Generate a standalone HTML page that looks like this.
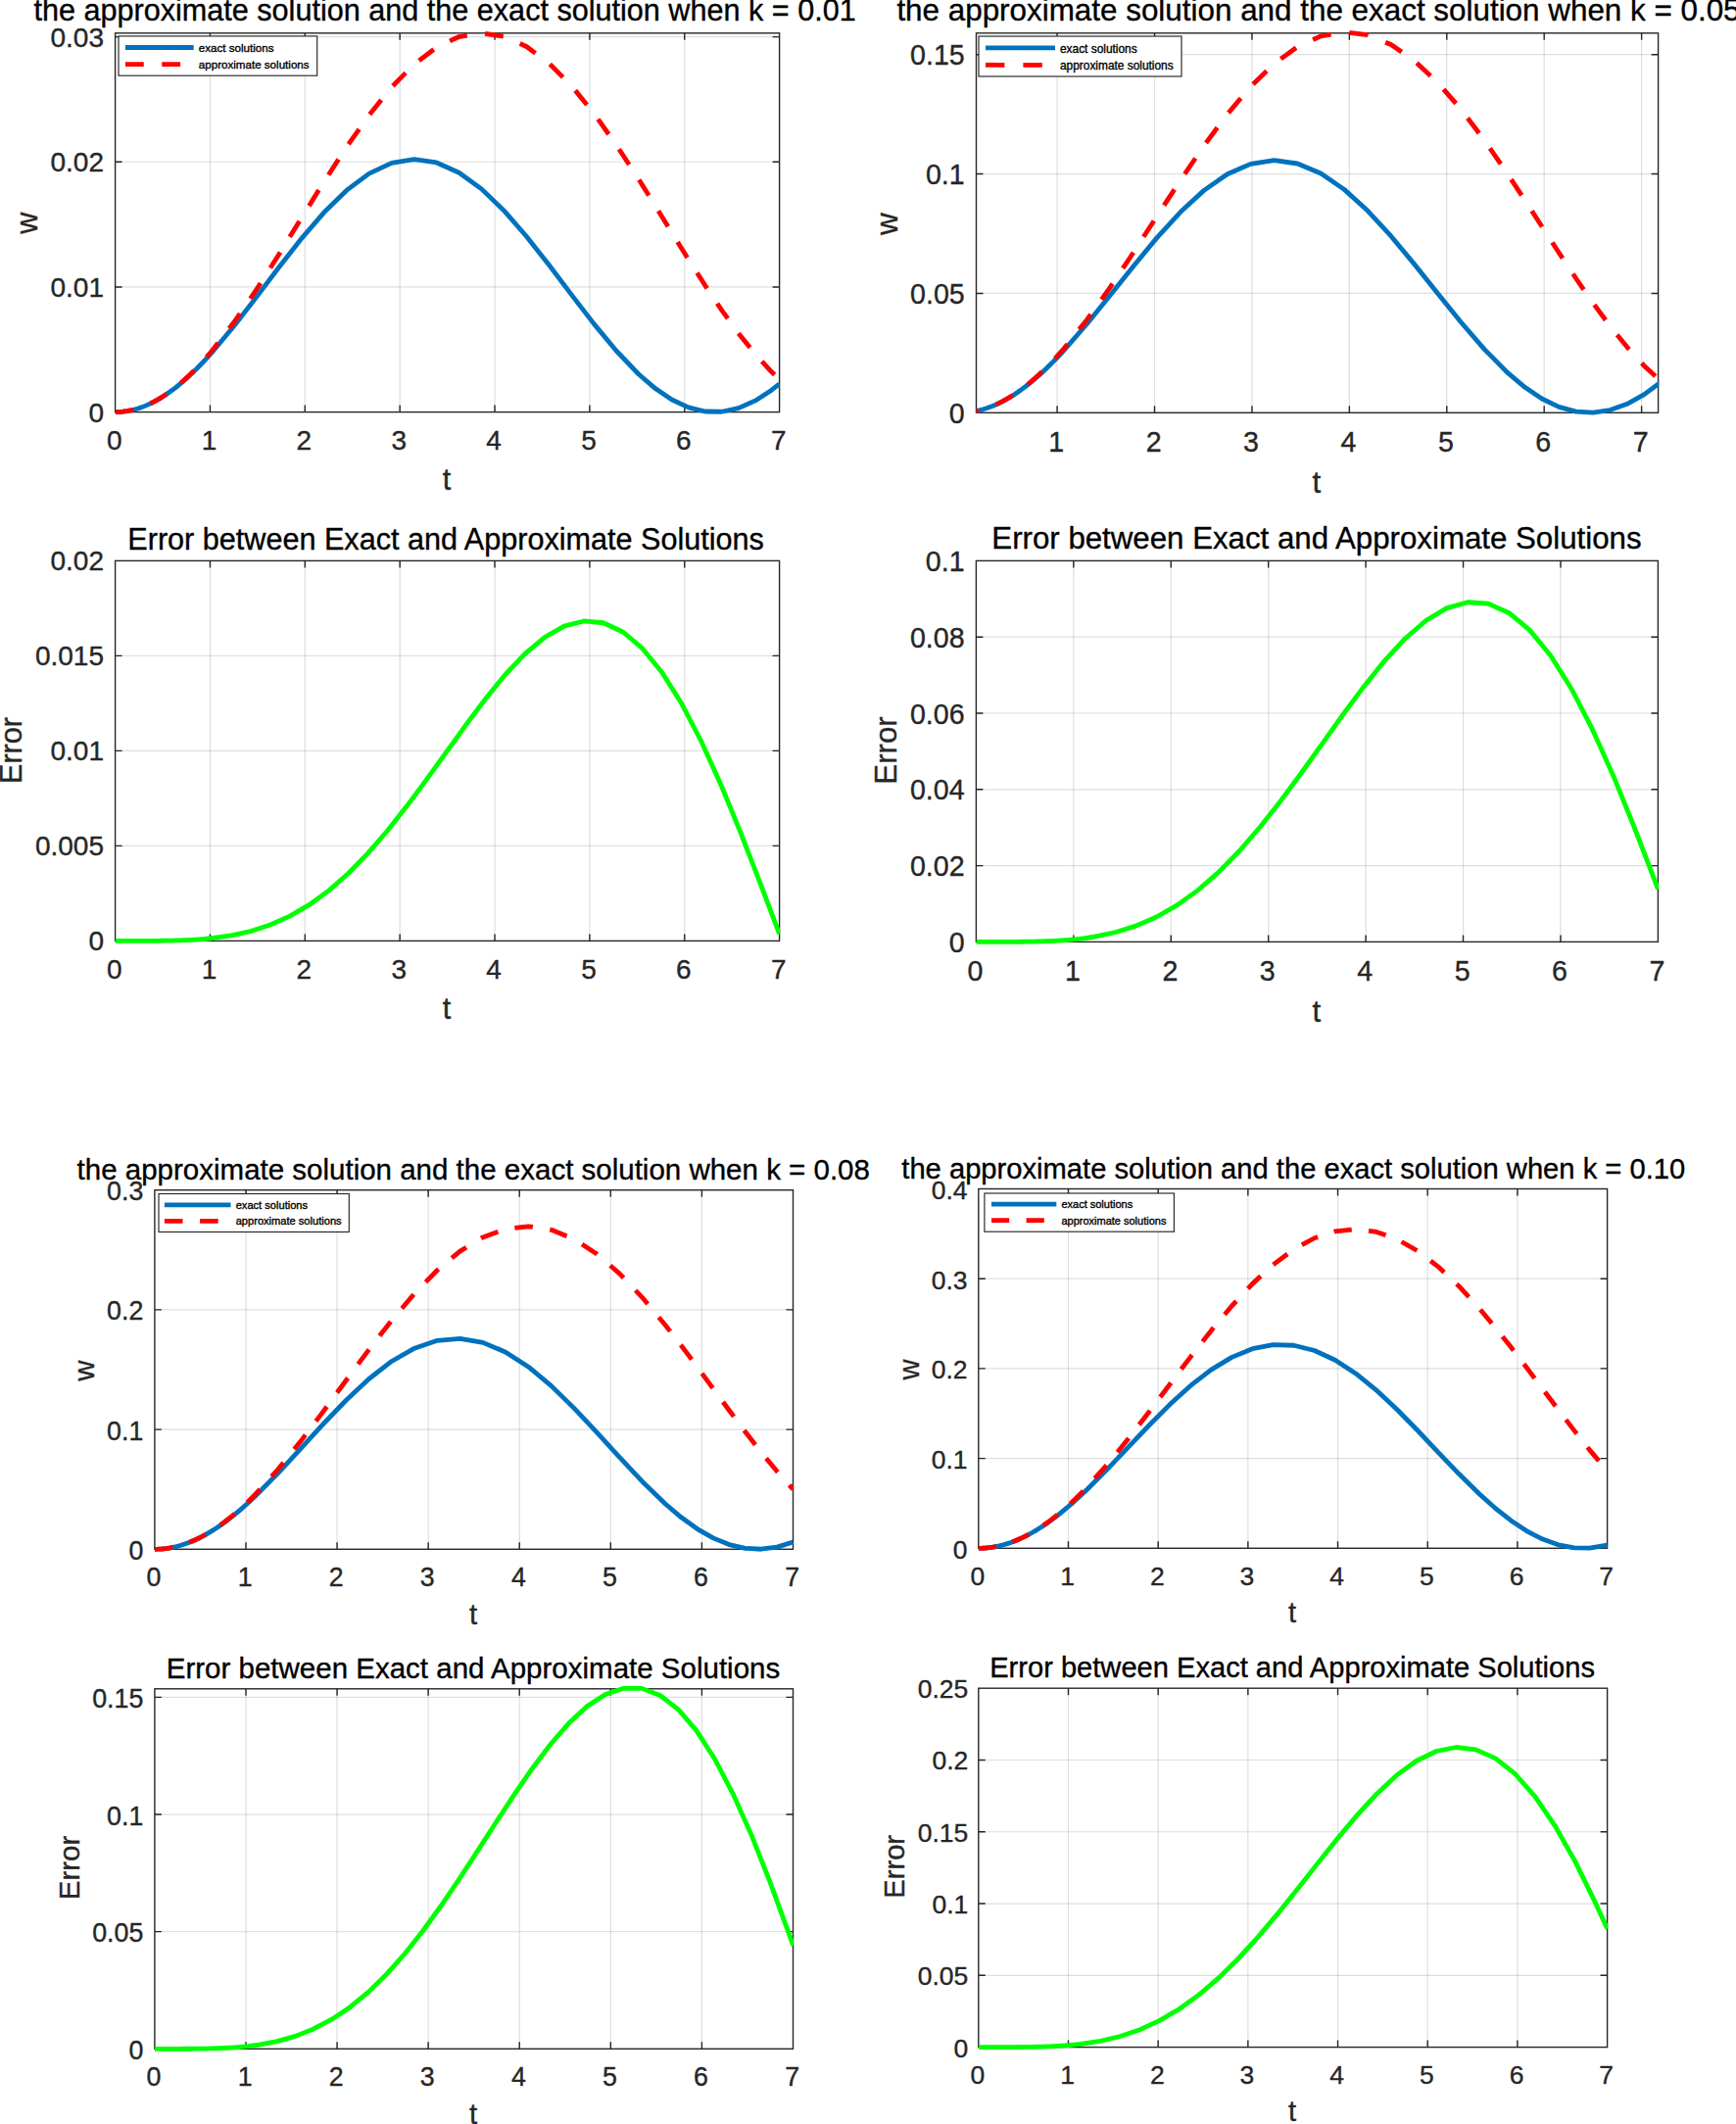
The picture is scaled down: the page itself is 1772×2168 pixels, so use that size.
<!DOCTYPE html><html><head><meta charset="utf-8"><title>Approximate and exact solutions</title><style>html,body{margin:0;padding:0;background:#fff}body{width:1772px;height:2168px;overflow:hidden}svg{display:block;font-family:"Liberation Sans", Arial, Helvetica, sans-serif}text{stroke-width:0.35px;paint-order:stroke fill;stroke-linejoin:round}</style></head><body>
<svg width="1772" height="2168" viewBox="0 0 1772 2168"><rect width="1772" height="2168" fill="#fff"/>
<g id="p1">
<path d="M214.46 33.80V420.60M311.31 33.80V420.60M408.17 33.80V420.60M505.03 33.80V420.60M601.89 33.80V420.60M698.74 33.80V420.60" stroke="rgba(38,38,38,0.15)" stroke-width="1.2" fill="none"/>
<path d="M117.60 292.93H795.60M117.60 165.26H795.60M117.60 37.59H795.60" stroke="rgba(38,38,38,0.15)" stroke-width="1.2" fill="none"/>
<rect x="117.60" y="33.80" width="678.00" height="386.80" fill="none" stroke="#262626" stroke-width="1.4"/>
<path d="M214.46 420.60v-7M214.46 33.80v7M311.31 420.60v-7M311.31 33.80v7M408.17 420.60v-7M408.17 33.80v7M505.03 420.60v-7M505.03 33.80v7M601.89 420.60v-7M601.89 33.80v7M698.74 420.60v-7M698.74 33.80v7M117.60 292.93h7M795.60 292.93h-7M117.60 165.26h7M795.60 165.26h-7M117.60 37.59h7M795.60 37.59h-7" stroke="#262626" stroke-width="1.4" fill="none"/>
<g font-size="28" fill="#262626" stroke="#262626">
<text x="116.70" y="459.40" text-anchor="middle">0</text>
<text x="213.56" y="459.40" text-anchor="middle">1</text>
<text x="310.41" y="459.40" text-anchor="middle">2</text>
<text x="407.27" y="459.40" text-anchor="middle">3</text>
<text x="504.13" y="459.40" text-anchor="middle">4</text>
<text x="600.99" y="459.40" text-anchor="middle">5</text>
<text x="697.84" y="459.40" text-anchor="middle">6</text>
<text x="794.70" y="459.40" text-anchor="middle">7</text>
<text x="106.00" y="430.80" text-anchor="end">0</text>
<text x="106.00" y="303.13" text-anchor="end">0.01</text>
<text x="106.00" y="175.46" text-anchor="end">0.02</text>
<text x="106.00" y="47.79" text-anchor="end">0.03</text>
</g>
<clipPath id="cp1"><rect x="117.60" y="30.80" width="678.70" height="392.80"/></clipPath>
<g clip-path="url(#cp1)" fill="none" stroke-linejoin="round">
<polyline points="117.60,420.60 121.47,420.50 125.35,420.19 129.22,419.68 133.10,418.97 136.97,418.06 140.85,416.94 144.72,415.63 148.59,414.12 152.47,412.42 156.34,410.52 160.22,408.44 164.09,406.17 167.97,403.72 171.84,401.09 175.71,398.29 179.59,395.32 183.46,392.19 187.34,388.90 191.21,385.45 195.09,381.86 198.96,378.12 202.83,374.24 206.71,370.24 210.58,366.11 216.37,359.73 239.29,332.29 262.22,302.61 285.14,272.32 308.07,243.10 331.00,216.56 353.92,194.16 376.85,177.14 399.77,166.44 422.70,162.65 445.63,165.98 468.55,176.24 491.48,192.87 514.40,214.95 537.33,241.27 560.26,270.36 583.18,300.63 606.11,330.40 629.03,358.03 651.96,382.00 668.91,396.57 685.86,407.97 702.81,415.85 719.76,419.98 736.71,420.23 753.66,416.58 770.61,409.16 787.56,398.19 795.60,391.83" stroke="#0072bd" stroke-width="4.8"/>
<polyline points="117.60,420.60 121.47,420.50 125.35,420.19 129.22,419.68 133.10,418.97 136.97,418.05 140.85,416.93 144.72,415.62 148.59,414.10 152.47,412.39 156.34,410.48 160.22,408.37 164.09,406.08 167.97,403.59 171.84,400.92 175.71,398.07 179.59,395.04 183.46,391.83 187.34,388.44 191.21,384.89 195.09,381.16 198.96,377.28 202.83,373.24 206.71,369.04 210.58,364.69 216.37,357.94 239.29,328.28 262.22,294.91 285.14,259.03 308.07,221.98 331.00,185.12 353.92,149.81 376.85,117.35 399.77,88.94 422.70,65.63 445.63,48.27 468.55,37.51 491.48,33.74 514.40,37.10 537.33,47.46 560.26,64.45 583.18,87.44 606.11,115.58 629.03,147.84 651.96,183.02 668.91,210.15 685.86,237.62 702.81,264.88 719.76,291.39 736.71,316.59 753.66,339.99 770.61,361.12 787.56,379.54 795.60,387.22" stroke="#ff0000" stroke-width="4.8" stroke-dasharray="18.85 18.5"/>
</g>
<text x="34.40" y="21.40" font-size="30.6" fill="#000" stroke="#000" text-anchor="start">the approximate solution and the exact solution when k = 0.01</text>
<text x="456.00" y="500.40" font-size="30.6" fill="#262626" stroke="#262626" text-anchor="middle">t</text>
<text transform="translate(38.10 227.80) rotate(-90)" font-size="30.6" fill="#262626" stroke="#262626" text-anchor="middle">w</text>
<rect x="121.00" y="36.90" width="202.70" height="40.30" fill="#fff" stroke="#262626" stroke-width="1.15"/>
<path d="M127.90 48.50H197.70" stroke="#0072bd" stroke-width="4.8"/>
<path d="M127.90 65.65H197.70" stroke="#ff0000" stroke-width="4.8" stroke-dasharray="18.85 18.5"/>
<text x="202.80" y="53.00" font-size="11.6" fill="#000" stroke="#000" stroke-width="0.2">exact solutions</text>
<text x="202.80" y="69.80" font-size="11.6" fill="#000" stroke="#000" stroke-width="0.2">approximate solutions</text>
</g>
<g id="p2">
<path d="M1079.10 33.80V421.30M1178.52 33.80V421.30M1277.94 33.80V421.30M1377.36 33.80V421.30M1476.78 33.80V421.30M1576.20 33.80V421.30M1675.62 33.80V421.30" stroke="rgba(38,38,38,0.15)" stroke-width="1.2" fill="none"/>
<path d="M996.50 299.43H1692.60M996.50 177.56H1692.60M996.50 55.69H1692.60" stroke="rgba(38,38,38,0.15)" stroke-width="1.2" fill="none"/>
<rect x="996.50" y="33.80" width="696.10" height="387.50" fill="none" stroke="#262626" stroke-width="1.4"/>
<path d="M1079.10 421.30v-7M1079.10 33.80v7M1178.52 421.30v-7M1178.52 33.80v7M1277.94 421.30v-7M1277.94 33.80v7M1377.36 421.30v-7M1377.36 33.80v7M1476.78 421.30v-7M1476.78 33.80v7M1576.20 421.30v-7M1576.20 33.80v7M1675.62 421.30v-7M1675.62 33.80v7M996.50 299.43h7M1692.60 299.43h-7M996.50 177.56h7M1692.60 177.56h-7M996.50 55.69h7M1692.60 55.69h-7" stroke="#262626" stroke-width="1.4" fill="none"/>
<g font-size="28.6" fill="#262626" stroke="#262626">
<text x="1078.20" y="460.80" text-anchor="middle">1</text>
<text x="1177.62" y="460.80" text-anchor="middle">2</text>
<text x="1277.04" y="460.80" text-anchor="middle">3</text>
<text x="1376.46" y="460.80" text-anchor="middle">4</text>
<text x="1475.88" y="460.80" text-anchor="middle">5</text>
<text x="1575.30" y="460.80" text-anchor="middle">6</text>
<text x="1674.72" y="460.80" text-anchor="middle">7</text>
<text x="984.70" y="431.50" text-anchor="end">0</text>
<text x="984.70" y="309.63" text-anchor="end">0.05</text>
<text x="984.70" y="187.76" text-anchor="end">0.1</text>
<text x="984.70" y="65.89" text-anchor="end">0.15</text>
</g>
<clipPath id="cp2"><rect x="996.50" y="30.80" width="696.80" height="393.50"/></clipPath>
<g clip-path="url(#cp2)" fill="none" stroke-linejoin="round">
<polyline points="979.68,421.30 983.66,421.20 987.63,420.91 991.61,420.42 995.59,419.74 999.56,418.87 1003.54,417.81 1007.52,416.55 1011.49,415.11 1015.47,413.48 1019.45,411.67 1023.42,409.68 1027.40,407.51 1031.38,405.17 1035.36,402.66 1039.33,399.98 1043.31,397.14 1047.29,394.14 1051.26,390.99 1055.24,387.68 1059.22,384.24 1063.19,380.65 1067.17,376.93 1071.15,373.09 1075.12,369.12 1079.10,365.04 1083.08,360.84 1085.76,357.95 1109.62,330.53 1133.48,301.06 1157.34,271.13 1181.20,242.36 1205.07,216.31 1228.93,194.39 1252.79,177.77 1276.65,167.35 1300.51,163.70 1324.37,167.00 1348.23,177.07 1372.09,193.39 1395.95,215.07 1419.81,240.94 1443.67,269.60 1467.53,299.51 1491.39,329.05 1515.26,356.61 1539.12,380.71 1556.51,395.33 1573.91,406.98 1591.31,415.32 1608.71,420.12 1626.11,421.22 1643.51,418.61 1660.91,412.35 1678.30,402.62 1695.70,389.72 1700.47,385.67" stroke="#0072bd" stroke-width="4.8"/>
<polyline points="979.68,421.30 983.66,421.20 987.63,420.91 991.61,420.42 995.59,419.74 999.56,418.87 1003.54,417.80 1007.52,416.54 1011.49,415.09 1015.47,413.46 1019.45,411.63 1023.42,409.62 1027.40,407.43 1031.38,405.05 1035.36,402.50 1039.33,399.77 1043.31,396.87 1047.29,393.80 1051.26,390.56 1055.24,387.15 1059.22,383.59 1063.19,379.87 1067.17,375.99 1071.15,371.97 1075.12,367.80 1079.10,363.48 1083.08,359.04 1085.76,355.96 1109.62,326.18 1133.48,292.83 1157.34,257.10 1181.20,220.30 1205.07,183.73 1228.93,148.73 1252.79,116.55 1276.65,88.35 1300.51,65.14 1324.37,47.77 1348.23,36.85 1372.09,32.78 1395.95,35.72 1419.81,45.54 1443.67,61.91 1467.53,84.22 1491.39,111.67 1515.26,143.29 1539.12,177.92 1556.51,204.36 1573.91,231.23 1591.31,258.03 1608.71,284.23 1626.11,309.33 1643.51,332.85 1660.91,354.35 1678.30,373.40 1695.70,389.64 1700.47,393.57" stroke="#ff0000" stroke-width="4.8" stroke-dasharray="19.4 19"/>
</g>
<text x="915.40" y="21.40" font-size="31.4" fill="#000" stroke="#000" text-anchor="start">the approximate solution and the exact solution when k = 0.05</text>
<text x="1343.90" y="502.60" font-size="31.4" fill="#262626" stroke="#262626" text-anchor="middle">t</text>
<text transform="translate(915.60 228.60) rotate(-90)" font-size="31.4" fill="#262626" stroke="#262626" text-anchor="middle">w</text>
<rect x="999.00" y="37.00" width="207.00" height="41.00" fill="#fff" stroke="#262626" stroke-width="1.15"/>
<path d="M1006.00 48.80H1077.00" stroke="#0072bd" stroke-width="4.8"/>
<path d="M1006.00 66.30H1077.00" stroke="#ff0000" stroke-width="4.8" stroke-dasharray="19.4 19"/>
<text x="1082.00" y="53.50" font-size="11.9" fill="#000" stroke="#000" stroke-width="0.2">exact solutions</text>
<text x="1082.00" y="70.50" font-size="11.9" fill="#000" stroke="#000" stroke-width="0.2">approximate solutions</text>
</g>
<g id="p3">
<path d="M214.46 572.40V960.40M311.31 572.40V960.40M408.17 572.40V960.40M505.03 572.40V960.40M601.89 572.40V960.40M698.74 572.40V960.40" stroke="rgba(38,38,38,0.15)" stroke-width="1.2" fill="none"/>
<path d="M117.60 863.40H795.60M117.60 766.40H795.60M117.60 669.40H795.60" stroke="rgba(38,38,38,0.15)" stroke-width="1.2" fill="none"/>
<rect x="117.60" y="572.40" width="678.00" height="388.00" fill="none" stroke="#262626" stroke-width="1.4"/>
<path d="M214.46 960.40v-7M214.46 572.40v7M311.31 960.40v-7M311.31 572.40v7M408.17 960.40v-7M408.17 572.40v7M505.03 960.40v-7M505.03 572.40v7M601.89 960.40v-7M601.89 572.40v7M698.74 960.40v-7M698.74 572.40v7M117.60 863.40h7M795.60 863.40h-7M117.60 766.40h7M795.60 766.40h-7M117.60 669.40h7M795.60 669.40h-7" stroke="#262626" stroke-width="1.4" fill="none"/>
<g font-size="28" fill="#262626" stroke="#262626">
<text x="116.70" y="999.10" text-anchor="middle">0</text>
<text x="213.56" y="999.10" text-anchor="middle">1</text>
<text x="310.41" y="999.10" text-anchor="middle">2</text>
<text x="407.27" y="999.10" text-anchor="middle">3</text>
<text x="504.13" y="999.10" text-anchor="middle">4</text>
<text x="600.99" y="999.10" text-anchor="middle">5</text>
<text x="697.84" y="999.10" text-anchor="middle">6</text>
<text x="794.70" y="999.10" text-anchor="middle">7</text>
<text x="106.00" y="970.10" text-anchor="end">0</text>
<text x="106.00" y="873.10" text-anchor="end">0.005</text>
<text x="106.00" y="776.10" text-anchor="end">0.01</text>
<text x="106.00" y="679.10" text-anchor="end">0.015</text>
<text x="106.00" y="582.10" text-anchor="end">0.02</text>
</g>
<clipPath id="cp3"><rect x="117.60" y="569.40" width="678.70" height="394.00"/></clipPath>
<g clip-path="url(#cp3)" fill="none" stroke-linejoin="round">
<polyline points="117.60,960.40 121.47,960.40 125.35,960.40 129.22,960.40 133.10,960.40 136.97,960.40 140.85,960.39 144.72,960.38 148.59,960.37 152.47,960.36 156.34,960.33 160.22,960.30 164.09,960.26 167.97,960.21 171.84,960.14 175.71,960.06 179.59,959.96 183.46,959.84 187.34,959.70 191.21,959.54 195.09,959.35 198.96,959.12 202.83,958.87 206.71,958.58 210.58,958.25 215.81,957.74 235.81,954.95 255.82,950.52 275.82,944.04 295.82,935.11 315.82,923.44 335.82,908.83 355.82,891.21 375.82,870.68 395.82,847.50 415.82,822.11 435.82,795.13 455.83,767.31 475.83,739.58 495.83,712.95 515.83,688.50 535.83,667.33 555.83,650.54 575.83,639.12 595.83,633.96 615.83,635.76 635.83,645.00 655.84,661.92 675.84,686.47 695.84,718.30 715.84,756.75 735.84,800.89 755.84,849.49 775.84,901.09 795.60,953.40" stroke="#00ff00" stroke-width="4.8"/>
</g>
<text x="130.30" y="560.90" font-size="30.6" fill="#000" stroke="#000" text-anchor="start">Error between Exact and Approximate Solutions</text>
<text x="456.00" y="1039.60" font-size="30.6" fill="#262626" stroke="#262626" text-anchor="middle">t</text>
<text transform="translate(21.60 766.00) rotate(-90)" font-size="30.6" fill="#262626" stroke="#262626" text-anchor="middle">Error</text>
</g>
<g id="p4">
<path d="M1095.83 572.40V961.40M1195.26 572.40V961.40M1294.69 572.40V961.40M1394.11 572.40V961.40M1493.54 572.40V961.40M1592.97 572.40V961.40" stroke="rgba(38,38,38,0.15)" stroke-width="1.2" fill="none"/>
<path d="M996.40 883.60H1692.40M996.40 805.80H1692.40M996.40 728.00H1692.40M996.40 650.20H1692.40" stroke="rgba(38,38,38,0.15)" stroke-width="1.2" fill="none"/>
<rect x="996.40" y="572.40" width="696.00" height="389.00" fill="none" stroke="#262626" stroke-width="1.4"/>
<path d="M1095.83 961.40v-7M1095.83 572.40v7M1195.26 961.40v-7M1195.26 572.40v7M1294.69 961.40v-7M1294.69 572.40v7M1394.11 961.40v-7M1394.11 572.40v7M1493.54 961.40v-7M1493.54 572.40v7M1592.97 961.40v-7M1592.97 572.40v7M996.40 883.60h7M1692.40 883.60h-7M996.40 805.80h7M1692.40 805.80h-7M996.40 728.00h7M1692.40 728.00h-7M996.40 650.20h7M1692.40 650.20h-7" stroke="#262626" stroke-width="1.4" fill="none"/>
<g font-size="28.6" fill="#262626" stroke="#262626">
<text x="995.50" y="1001.10" text-anchor="middle">0</text>
<text x="1094.93" y="1001.10" text-anchor="middle">1</text>
<text x="1194.36" y="1001.10" text-anchor="middle">2</text>
<text x="1293.79" y="1001.10" text-anchor="middle">3</text>
<text x="1393.21" y="1001.10" text-anchor="middle">4</text>
<text x="1492.64" y="1001.10" text-anchor="middle">5</text>
<text x="1592.07" y="1001.10" text-anchor="middle">6</text>
<text x="1691.50" y="1001.10" text-anchor="middle">7</text>
<text x="984.60" y="971.90" text-anchor="end">0</text>
<text x="984.60" y="894.10" text-anchor="end">0.02</text>
<text x="984.60" y="816.30" text-anchor="end">0.04</text>
<text x="984.60" y="738.50" text-anchor="end">0.06</text>
<text x="984.60" y="660.70" text-anchor="end">0.08</text>
<text x="984.60" y="582.90" text-anchor="end">0.1</text>
</g>
<clipPath id="cp4"><rect x="996.40" y="569.40" width="696.70" height="395.00"/></clipPath>
<g clip-path="url(#cp4)" fill="none" stroke-linejoin="round">
<polyline points="996.40,961.40 1000.38,961.40 1004.35,961.40 1008.33,961.40 1012.31,961.40 1016.29,961.40 1020.26,961.39 1024.24,961.38 1028.22,961.37 1032.19,961.36 1036.17,961.33 1040.15,961.30 1044.13,961.26 1048.10,961.21 1052.08,961.15 1056.06,961.07 1060.03,960.97 1064.01,960.85 1067.99,960.72 1071.97,960.55 1075.94,960.37 1079.92,960.15 1083.90,959.90 1087.87,959.61 1091.85,959.29 1095.83,958.92 1099.81,958.52 1103.78,958.06 1107.76,957.56 1111.74,957.00 1116.91,956.19 1138.09,951.75 1159.26,945.14 1180.44,935.96 1201.62,923.86 1222.80,908.61 1243.98,890.14 1265.16,868.53 1286.33,844.03 1307.51,817.13 1328.69,788.45 1349.87,758.81 1371.05,729.18 1392.23,700.64 1413.40,674.35 1434.58,651.49 1455.76,633.23 1476.94,620.66 1498.12,614.74 1519.29,616.23 1540.47,625.70 1561.65,643.39 1582.83,669.29 1604.01,703.02 1625.19,743.90 1646.36,790.92 1667.54,842.76 1688.72,897.84 1692.40,907.61" stroke="#00ff00" stroke-width="4.8"/>
</g>
<text x="1012.30" y="560.40" font-size="31.24" fill="#000" stroke="#000" text-anchor="start">Error between Exact and Approximate Solutions</text>
<text x="1343.90" y="1042.60" font-size="31.24" fill="#262626" stroke="#262626" text-anchor="middle">t</text>
<text transform="translate(915.40 766.00) rotate(-90)" font-size="31.24" fill="#262626" stroke="#262626" text-anchor="middle">Error</text>
</g>
<g id="p5">
<path d="M250.99 1214.70V1581.30M344.07 1214.70V1581.30M437.16 1214.70V1581.30M530.24 1214.70V1581.30M623.33 1214.70V1581.30M716.41 1214.70V1581.30" stroke="rgba(38,38,38,0.15)" stroke-width="1.2" fill="none"/>
<path d="M157.90 1459.10H809.50M157.90 1336.90H809.50" stroke="rgba(38,38,38,0.15)" stroke-width="1.2" fill="none"/>
<rect x="157.90" y="1214.70" width="651.60" height="366.60" fill="none" stroke="#262626" stroke-width="1.4"/>
<path d="M250.99 1581.30v-7M250.99 1214.70v7M344.07 1581.30v-7M344.07 1214.70v7M437.16 1581.30v-7M437.16 1214.70v7M530.24 1581.30v-7M530.24 1214.70v7M623.33 1581.30v-7M623.33 1214.70v7M716.41 1581.30v-7M716.41 1214.70v7M157.90 1459.10h7M809.50 1459.10h-7M157.90 1336.90h7M809.50 1336.90h-7" stroke="#262626" stroke-width="1.4" fill="none"/>
<g font-size="26.8" fill="#262626" stroke="#262626">
<text x="157.00" y="1619.30" text-anchor="middle">0</text>
<text x="250.09" y="1619.30" text-anchor="middle">1</text>
<text x="343.17" y="1619.30" text-anchor="middle">2</text>
<text x="436.26" y="1619.30" text-anchor="middle">3</text>
<text x="529.34" y="1619.30" text-anchor="middle">4</text>
<text x="622.43" y="1619.30" text-anchor="middle">5</text>
<text x="715.51" y="1619.30" text-anchor="middle">6</text>
<text x="808.60" y="1619.30" text-anchor="middle">7</text>
<text x="146.30" y="1591.80" text-anchor="end">0</text>
<text x="146.30" y="1469.60" text-anchor="end">0.1</text>
<text x="146.30" y="1347.40" text-anchor="end">0.2</text>
<text x="146.30" y="1225.20" text-anchor="end">0.3</text>
</g>
<clipPath id="cp5"><rect x="157.90" y="1211.70" width="652.30" height="372.60"/></clipPath>
<g clip-path="url(#cp5)" fill="none" stroke-linejoin="round">
<polyline points="157.90,1581.30 161.62,1581.22 165.35,1580.99 169.07,1580.60 172.79,1580.05 176.52,1579.35 180.24,1578.50 183.96,1577.49 187.69,1576.33 191.41,1575.03 195.13,1573.57 198.86,1571.98 202.58,1570.24 206.30,1568.35 210.03,1566.34 213.75,1564.18 217.47,1561.90 221.20,1559.49 224.92,1556.95 228.65,1554.29 232.37,1551.52 236.09,1548.63 239.82,1545.64 243.54,1542.54 247.26,1539.34 250.99,1536.05 254.71,1532.67 260.20,1527.52 283.47,1504.06 306.74,1478.91 330.02,1453.49 353.29,1429.23 376.56,1407.48 399.83,1389.46 423.10,1376.15 446.37,1368.30 469.64,1366.34 492.92,1370.37 516.19,1380.17 539.46,1395.20 562.73,1414.63 586.00,1437.40 609.27,1462.22 632.54,1487.70 655.82,1512.43 679.09,1534.99 695.38,1548.81 711.67,1560.55 727.96,1569.89 744.25,1576.56 760.54,1580.38 776.83,1581.23 793.12,1579.10 809.50,1574.01" stroke="#0072bd" stroke-width="4.8"/>
<polyline points="157.90,1581.30 161.62,1581.22 165.35,1580.99 169.07,1580.60 172.79,1580.05 176.52,1579.35 180.24,1578.49 183.96,1577.48 187.69,1576.32 191.41,1575.01 195.13,1573.54 198.86,1571.93 202.58,1570.17 206.30,1568.26 210.03,1566.21 213.75,1564.01 217.47,1561.68 221.20,1559.21 224.92,1556.60 228.65,1553.86 232.37,1550.99 236.09,1548.00 239.82,1544.87 243.54,1541.63 247.26,1538.27 250.99,1534.79 254.71,1531.20 260.20,1525.71 283.47,1500.07 306.74,1471.35 330.02,1440.60 353.29,1408.96 376.56,1377.60 399.83,1347.68 423.10,1320.30 446.37,1296.49 469.64,1277.11 492.92,1262.89 516.19,1254.34 539.46,1251.80 562.73,1255.34 586.00,1264.84 609.27,1279.95 632.54,1300.11 655.82,1324.58 679.09,1352.44 695.38,1373.42 711.67,1395.19 727.96,1417.34 744.25,1439.47 760.54,1461.19 776.83,1482.10 793.12,1501.82 809.50,1520.09" stroke="#ff0000" stroke-width="4.8" stroke-dasharray="18.6 17.6"/>
</g>
<text x="78.60" y="1203.70" font-size="29.5" fill="#000" stroke="#000" text-anchor="start">the approximate solution and the exact solution when k = 0.08</text>
<text x="483.00" y="1657.70" font-size="29.5" fill="#262626" stroke="#262626" text-anchor="middle">t</text>
<text transform="translate(95.60 1399.00) rotate(-90)" font-size="29.5" fill="#262626" stroke="#262626" text-anchor="middle">w</text>
<rect x="162.00" y="1218.50" width="194.30" height="39.00" fill="#fff" stroke="#262626" stroke-width="1.15"/>
<path d="M167.90 1229.90H235.50" stroke="#0072bd" stroke-width="4.8"/>
<path d="M167.90 1246.30H235.50" stroke="#ff0000" stroke-width="4.8" stroke-dasharray="18.6 17.6"/>
<text x="240.70" y="1233.60" font-size="11.1" fill="#000" stroke="#000" stroke-width="0.2">exact solutions</text>
<text x="240.70" y="1250.20" font-size="11.1" fill="#000" stroke="#000" stroke-width="0.2">approximate solutions</text>
</g>
<g id="p6">
<path d="M1090.49 1213.50V1580.30M1182.17 1213.50V1580.30M1273.86 1213.50V1580.30M1365.54 1213.50V1580.30M1457.23 1213.50V1580.30M1548.91 1213.50V1580.30" stroke="rgba(38,38,38,0.15)" stroke-width="1.2" fill="none"/>
<path d="M998.80 1488.60H1640.60M998.80 1396.90H1640.60M998.80 1305.20H1640.60" stroke="rgba(38,38,38,0.15)" stroke-width="1.2" fill="none"/>
<rect x="998.80" y="1213.50" width="641.80" height="366.80" fill="none" stroke="#262626" stroke-width="1.4"/>
<path d="M1090.49 1580.30v-7M1090.49 1213.50v7M1182.17 1580.30v-7M1182.17 1213.50v7M1273.86 1580.30v-7M1273.86 1213.50v7M1365.54 1580.30v-7M1365.54 1213.50v7M1457.23 1580.30v-7M1457.23 1213.50v7M1548.91 1580.30v-7M1548.91 1213.50v7M998.80 1488.60h7M1640.60 1488.60h-7M998.80 1396.90h7M1640.60 1396.90h-7M998.80 1305.20h7M1640.60 1305.20h-7" stroke="#262626" stroke-width="1.4" fill="none"/>
<g font-size="26.5" fill="#262626" stroke="#262626">
<text x="997.90" y="1618.00" text-anchor="middle">0</text>
<text x="1089.59" y="1618.00" text-anchor="middle">1</text>
<text x="1181.27" y="1618.00" text-anchor="middle">2</text>
<text x="1272.96" y="1618.00" text-anchor="middle">3</text>
<text x="1364.64" y="1618.00" text-anchor="middle">4</text>
<text x="1456.33" y="1618.00" text-anchor="middle">5</text>
<text x="1548.01" y="1618.00" text-anchor="middle">6</text>
<text x="1639.70" y="1618.00" text-anchor="middle">7</text>
<text x="987.60" y="1590.70" text-anchor="end">0</text>
<text x="987.60" y="1499.00" text-anchor="end">0.1</text>
<text x="987.60" y="1407.30" text-anchor="end">0.2</text>
<text x="987.60" y="1315.60" text-anchor="end">0.3</text>
<text x="987.60" y="1223.90" text-anchor="end">0.4</text>
</g>
<clipPath id="cp6"><rect x="998.80" y="1210.50" width="642.50" height="372.80"/></clipPath>
<g clip-path="url(#cp6)" fill="none" stroke-linejoin="round">
<polyline points="998.80,1580.30 1002.47,1580.23 1006.13,1580.01 1009.80,1579.64 1013.47,1579.13 1017.14,1578.47 1020.80,1577.67 1024.47,1576.73 1028.14,1575.64 1031.81,1574.42 1035.47,1573.05 1039.14,1571.55 1042.81,1569.92 1046.48,1568.15 1050.14,1566.26 1053.81,1564.23 1057.48,1562.09 1061.15,1559.82 1064.81,1557.44 1068.48,1554.94 1072.15,1552.34 1075.82,1549.62 1079.48,1546.81 1083.15,1543.89 1086.82,1540.88 1090.49,1537.78 1094.15,1534.59 1097.82,1531.33 1101.49,1527.98 1105.16,1524.57 1109.74,1520.20 1130.83,1499.06 1151.92,1476.90 1173.00,1454.74 1194.09,1433.59 1215.18,1414.43 1236.27,1398.10 1257.35,1385.35 1278.44,1376.73 1299.53,1372.63 1320.62,1373.23 1341.70,1378.49 1362.79,1388.20 1383.88,1401.92 1404.97,1419.04 1426.06,1438.79 1447.14,1460.28 1468.23,1482.54 1489.32,1504.54 1510.41,1525.27 1526.45,1539.58 1542.50,1552.21 1558.54,1562.81 1574.59,1571.08 1590.63,1576.81 1606.68,1579.82 1622.72,1580.05 1640.60,1577.02" stroke="#0072bd" stroke-width="4.8"/>
<polyline points="998.80,1580.30 1002.47,1580.23 1006.13,1580.01 1009.80,1579.64 1013.47,1579.13 1017.14,1578.47 1020.80,1577.67 1024.47,1576.72 1028.14,1575.63 1031.81,1574.39 1035.47,1573.02 1039.14,1571.50 1042.81,1569.85 1046.48,1568.06 1050.14,1566.13 1053.81,1564.07 1057.48,1561.88 1061.15,1559.56 1064.81,1557.10 1068.48,1554.53 1072.15,1551.83 1075.82,1549.01 1079.48,1546.07 1083.15,1543.01 1086.82,1539.84 1090.49,1536.56 1094.15,1533.18 1097.82,1529.69 1101.49,1526.09 1105.16,1522.40 1109.74,1517.66 1130.83,1494.13 1151.92,1468.32 1173.00,1441.00 1194.09,1412.98 1215.18,1385.09 1236.27,1358.17 1257.35,1333.01 1278.44,1310.37 1299.53,1290.90 1320.62,1275.20 1341.70,1263.74 1362.79,1256.84 1383.88,1254.71 1404.97,1257.43 1426.06,1264.90 1447.14,1276.91 1468.23,1293.10 1489.32,1312.98 1510.41,1335.97 1526.45,1355.13 1542.50,1375.36 1558.54,1396.32 1574.59,1417.64 1590.63,1438.96 1606.68,1459.91 1622.72,1480.13 1640.60,1501.37" stroke="#ff0000" stroke-width="4.8" stroke-dasharray="18.2 17.4"/>
</g>
<text x="920.30" y="1202.50" font-size="29.16" fill="#000" stroke="#000" text-anchor="start">the approximate solution and the exact solution when k = 0.10</text>
<text x="1319.00" y="1656.00" font-size="29.16" fill="#262626" stroke="#262626" text-anchor="middle">t</text>
<text transform="translate(937.70 1398.00) rotate(-90)" font-size="29.16" fill="#262626" stroke="#262626" text-anchor="middle">w</text>
<rect x="1004.90" y="1218.00" width="193.50" height="39.20" fill="#fff" stroke="#262626" stroke-width="1.15"/>
<path d="M1012.00 1229.20H1078.30" stroke="#0072bd" stroke-width="4.8"/>
<path d="M1012.00 1245.70H1078.30" stroke="#ff0000" stroke-width="4.8" stroke-dasharray="18.2 17.4"/>
<text x="1083.40" y="1233.00" font-size="11" fill="#000" stroke="#000" stroke-width="0.2">exact solutions</text>
<text x="1083.40" y="1249.50" font-size="11" fill="#000" stroke="#000" stroke-width="0.2">approximate solutions</text>
</g>
<g id="p7">
<path d="M250.99 1723.80V2091.30M344.07 1723.80V2091.30M437.16 1723.80V2091.30M530.24 1723.80V2091.30M623.33 1723.80V2091.30M716.41 1723.80V2091.30" stroke="rgba(38,38,38,0.15)" stroke-width="1.2" fill="none"/>
<path d="M157.90 1971.67H809.50M157.90 1852.04H809.50M157.90 1732.41H809.50" stroke="rgba(38,38,38,0.15)" stroke-width="1.2" fill="none"/>
<rect x="157.90" y="1723.80" width="651.60" height="367.50" fill="none" stroke="#262626" stroke-width="1.4"/>
<path d="M250.99 2091.30v-7M250.99 1723.80v7M344.07 2091.30v-7M344.07 1723.80v7M437.16 2091.30v-7M437.16 1723.80v7M530.24 2091.30v-7M530.24 1723.80v7M623.33 2091.30v-7M623.33 1723.80v7M716.41 2091.30v-7M716.41 1723.80v7M157.90 1971.67h7M809.50 1971.67h-7M157.90 1852.04h7M809.50 1852.04h-7M157.90 1732.41h7M809.50 1732.41h-7" stroke="#262626" stroke-width="1.4" fill="none"/>
<g font-size="26.8" fill="#262626" stroke="#262626">
<text x="157.00" y="2129.40" text-anchor="middle">0</text>
<text x="250.09" y="2129.40" text-anchor="middle">1</text>
<text x="343.17" y="2129.40" text-anchor="middle">2</text>
<text x="436.26" y="2129.40" text-anchor="middle">3</text>
<text x="529.34" y="2129.40" text-anchor="middle">4</text>
<text x="622.43" y="2129.40" text-anchor="middle">5</text>
<text x="715.51" y="2129.40" text-anchor="middle">6</text>
<text x="808.60" y="2129.40" text-anchor="middle">7</text>
<text x="146.30" y="2101.80" text-anchor="end">0</text>
<text x="146.30" y="1982.17" text-anchor="end">0.05</text>
<text x="146.30" y="1862.54" text-anchor="end">0.1</text>
<text x="146.30" y="1742.91" text-anchor="end">0.15</text>
</g>
<clipPath id="cp7"><rect x="157.90" y="1720.80" width="652.30" height="373.50"/></clipPath>
<g clip-path="url(#cp7)" fill="none" stroke-linejoin="round">
<polyline points="157.90,2091.30 161.62,2091.30 165.35,2091.30 169.07,2091.30 172.79,2091.30 176.52,2091.30 180.24,2091.29 183.96,2091.28 187.69,2091.27 191.41,2091.26 195.13,2091.23 198.86,2091.20 202.58,2091.16 206.30,2091.11 210.03,2091.05 213.75,2090.97 217.47,2090.87 221.20,2090.76 224.92,2090.62 228.65,2090.46 232.37,2090.27 236.09,2090.05 239.82,2089.80 243.54,2089.52 247.26,2089.20 250.99,2088.83 254.71,2088.43 258.43,2087.97 262.16,2087.47 264.20,2087.17 282.82,2083.64 301.44,2078.37 320.06,2070.98 338.67,2061.17 357.29,2048.69 375.91,2033.38 394.52,2015.20 413.14,1994.24 431.76,1970.72 450.38,1945.00 468.99,1917.58 487.61,1889.08 506.23,1860.24 524.84,1831.87 543.46,1804.89 562.08,1780.22 580.70,1758.82 599.31,1741.62 617.93,1729.48 636.55,1723.18 655.16,1723.37 673.78,1730.52 692.40,1744.92 711.02,1766.63 729.63,1795.49 748.25,1831.08 766.87,1872.73 785.48,1919.55 804.10,1970.41 809.50,1985.72" stroke="#00ff00" stroke-width="4.8"/>
</g>
<text x="169.80" y="1713.20" font-size="29.5" fill="#000" stroke="#000" text-anchor="start">Error between Exact and Approximate Solutions</text>
<text x="483.00" y="2168.20" font-size="29.5" fill="#262626" stroke="#262626" text-anchor="middle">t</text>
<text transform="translate(81.10 1906.50) rotate(-90)" font-size="29.5" fill="#262626" stroke="#262626" text-anchor="middle">Error</text>
</g>
<g id="p8">
<path d="M1090.49 1723.20V2089.60M1182.17 1723.20V2089.60M1273.86 1723.20V2089.60M1365.54 1723.20V2089.60M1457.23 1723.20V2089.60M1548.91 1723.20V2089.60" stroke="rgba(38,38,38,0.15)" stroke-width="1.2" fill="none"/>
<path d="M998.80 2016.32H1640.60M998.80 1943.04H1640.60M998.80 1869.76H1640.60M998.80 1796.48H1640.60" stroke="rgba(38,38,38,0.15)" stroke-width="1.2" fill="none"/>
<rect x="998.80" y="1723.20" width="641.80" height="366.40" fill="none" stroke="#262626" stroke-width="1.4"/>
<path d="M1090.49 2089.60v-7M1090.49 1723.20v7M1182.17 2089.60v-7M1182.17 1723.20v7M1273.86 2089.60v-7M1273.86 1723.20v7M1365.54 2089.60v-7M1365.54 1723.20v7M1457.23 2089.60v-7M1457.23 1723.20v7M1548.91 2089.60v-7M1548.91 1723.20v7M998.80 2016.32h7M1640.60 2016.32h-7M998.80 1943.04h7M1640.60 1943.04h-7M998.80 1869.76h7M1640.60 1869.76h-7M998.80 1796.48h7M1640.60 1796.48h-7" stroke="#262626" stroke-width="1.4" fill="none"/>
<g font-size="26.5" fill="#262626" stroke="#262626">
<text x="997.90" y="2126.60" text-anchor="middle">0</text>
<text x="1089.59" y="2126.60" text-anchor="middle">1</text>
<text x="1181.27" y="2126.60" text-anchor="middle">2</text>
<text x="1272.96" y="2126.60" text-anchor="middle">3</text>
<text x="1364.64" y="2126.60" text-anchor="middle">4</text>
<text x="1456.33" y="2126.60" text-anchor="middle">5</text>
<text x="1548.01" y="2126.60" text-anchor="middle">6</text>
<text x="1639.70" y="2126.60" text-anchor="middle">7</text>
<text x="988.30" y="2099.50" text-anchor="end">0</text>
<text x="988.30" y="2026.22" text-anchor="end">0.05</text>
<text x="988.30" y="1952.94" text-anchor="end">0.1</text>
<text x="988.30" y="1879.66" text-anchor="end">0.15</text>
<text x="988.30" y="1806.38" text-anchor="end">0.2</text>
<text x="988.30" y="1733.10" text-anchor="end">0.25</text>
</g>
<clipPath id="cp8"><rect x="998.80" y="1720.20" width="642.50" height="372.40"/></clipPath>
<g clip-path="url(#cp8)" fill="none" stroke-linejoin="round">
<polyline points="998.80,2089.60 1002.47,2089.60 1006.13,2089.60 1009.80,2089.60 1013.47,2089.60 1017.14,2089.60 1020.80,2089.59 1024.47,2089.59 1028.14,2089.58 1031.81,2089.57 1035.47,2089.55 1039.14,2089.52 1042.81,2089.49 1046.48,2089.45 1050.14,2089.40 1053.81,2089.34 1057.48,2089.26 1061.15,2089.17 1064.81,2089.06 1068.48,2088.94 1072.15,2088.79 1075.82,2088.62 1079.48,2088.42 1083.15,2088.19 1086.82,2087.94 1090.49,2087.65 1094.15,2087.33 1097.82,2086.98 1103.05,2086.40 1123.22,2083.30 1143.39,2078.51 1163.56,2071.65 1183.73,2062.40 1203.90,2050.54 1224.07,2035.93 1244.24,2018.61 1264.41,1998.72 1284.58,1976.58 1304.76,1952.64 1324.93,1927.50 1345.10,1901.88 1365.27,1876.59 1385.44,1852.53 1405.61,1830.65 1425.78,1811.91 1445.95,1797.24 1466.12,1787.51 1486.29,1783.50 1506.46,1785.82 1526.63,1794.91 1546.81,1810.96 1566.98,1833.95 1587.15,1863.54 1607.32,1899.16 1627.49,1939.94 1640.60,1968.69" stroke="#00ff00" stroke-width="4.8"/>
</g>
<text x="1010.20" y="1712.40" font-size="29.1" fill="#000" stroke="#000" text-anchor="start">Error between Exact and Approximate Solutions</text>
<text x="1319.00" y="2165.20" font-size="29.1" fill="#262626" stroke="#262626" text-anchor="middle">t</text>
<text transform="translate(923.20 1905.30) rotate(-90)" font-size="29.1" fill="#262626" stroke="#262626" text-anchor="middle">Error</text>
</g>
</svg></body></html>
